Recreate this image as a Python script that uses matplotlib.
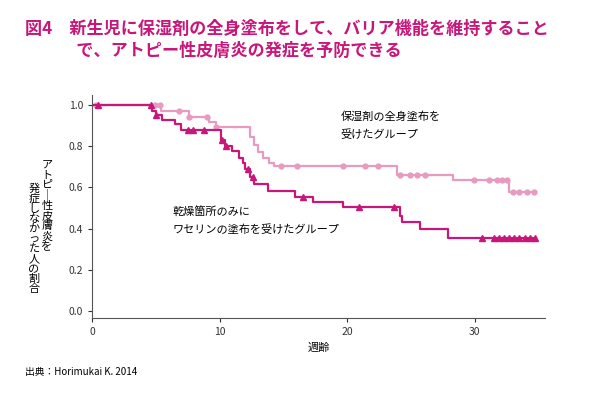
import matplotlib
matplotlib.use("Agg")
import matplotlib.pyplot as plt

plt.rcParams["font.family"] = "Noto Sans CJK JP"

# emollient group (pink)
pink_t = [0, 5.4, 7.6, 9.2, 9.7, 12.4, 12.7, 13.0, 13.4, 13.9, 14.3, 23.9, 28.3, 32.7]
pink_s = [1.0, 0.972, 0.943, 0.92, 0.895, 0.846, 0.806, 0.773, 0.741, 0.72, 0.704, 0.66, 0.635, 0.577]
pink_end = 34.8
pink_cens = [0.3, 4.9, 5.3, 6.8, 7.6, 9.0, 9.7, 14.8, 16.1, 19.7, 21.4, 22.4, 24.1, 24.9, 25.5, 26.1,
             29.9, 31.1, 31.7, 32.1, 32.5, 33.0, 33.5, 34.1, 34.6]

# vaseline group (magenta)
mag_t = [0, 4.7, 5.0, 5.5, 6.5, 7.0, 10.1, 10.4, 11.0, 11.5, 11.8, 12.0, 12.4, 12.7, 13.8, 15.9,
         17.3, 19.7, 24.1, 24.3, 25.7, 27.9]
mag_s = [1.0, 0.97, 0.95, 0.93, 0.91, 0.88, 0.83, 0.80, 0.775, 0.745, 0.72, 0.69, 0.65, 0.615, 0.583,
         0.555, 0.531, 0.503, 0.46, 0.434, 0.40, 0.355]
mag_end = 34.8
mag_cens = [0.5, 4.6, 5.0, 7.5, 7.9, 8.8, 10.2, 10.5, 12.2, 12.6, 16.5, 20.9, 23.7, 30.6,
            31.5, 31.9, 32.3, 32.7, 33.1, 33.5, 33.9, 34.3, 34.7]

xticks = [0, 10, 20, 30]
yticks = [0.0, 0.2, 0.4, 0.6, 0.8, 1.0]

PINK = "#e89ac0"
MAG = "#c8177a"

def step_val(ts, ss, x):
    v = ss[0]
    for t, s in zip(ts, ss):
        if x >= t:
            v = s
    return v

fig = plt.figure(figsize=(6.0, 4.01), dpi=100)
ax = fig.add_axes([92/600, 1-318/401, 453/600, 223/401])

for ts, ss, end, cens, col, mk, ms in [
    (pink_t, pink_s, pink_end, pink_cens, PINK, "o", 3.5),
    (mag_t, mag_s, mag_end, mag_cens, MAG, "^", 4),
]:
    ax.step(ts + [end], ss + [ss[-1]], where="post", color=col, lw=1.6)
    ax.plot(cens, [step_val(ts, ss, c) for c in cens], mk, color=col, ms=ms, ls="none")

ax.set_xlim(0, 35.5)
ax.set_ylim(-0.034, 1.049)
ax.set_xticks(xticks)
ax.set_yticks(yticks)
ax.set_yticklabels([f"{v:.1f}" for v in yticks])
ax.tick_params(labelsize=7.5, colors="#333333", length=3)
for s in ["top", "right"]:
    ax.spines[s].set_visible(False)
for s in ["left", "bottom"]:
    ax.spines[s].set_color("#555555")
ax.set_xlabel("週齢", fontsize=8)

ax.text(19.5, 0.84, "保湿剤の全身塗布を\n受けたグループ", fontsize=8, linespacing=1.8)
ax.text(6.3, 0.38, "乾燥箇所のみに\nワセリンの塗布を受けたグループ", fontsize=8, linespacing=1.8)

col1 = "アトピー性皮膚炎を"
col2 = "発症しなかった人の割合"
fig.text(47/600, 1-160/401, "\n".join(col1).replace("ー", "｜"), fontsize=8, ha="center", va="top", linespacing=1.0)
fig.text(34/600, 1-183/401, "\n".join(col2), fontsize=8, ha="center", va="top", linespacing=1.0)

fig.text(25/600, 1-40/401, "図4　新生児に保湿剤の全身塗布をして、バリア機能を維持すること\n　　　で、アトピー性皮膚炎の発症を予防できる",
         fontsize=12.3, color=MAG, fontweight="bold", va="center", linespacing=1.35)
fig.text(25/600, 1-372/401, "出典：Horimukai K. 2014", fontsize=7, va="center")

fig.savefig("out.png", dpi=100)
